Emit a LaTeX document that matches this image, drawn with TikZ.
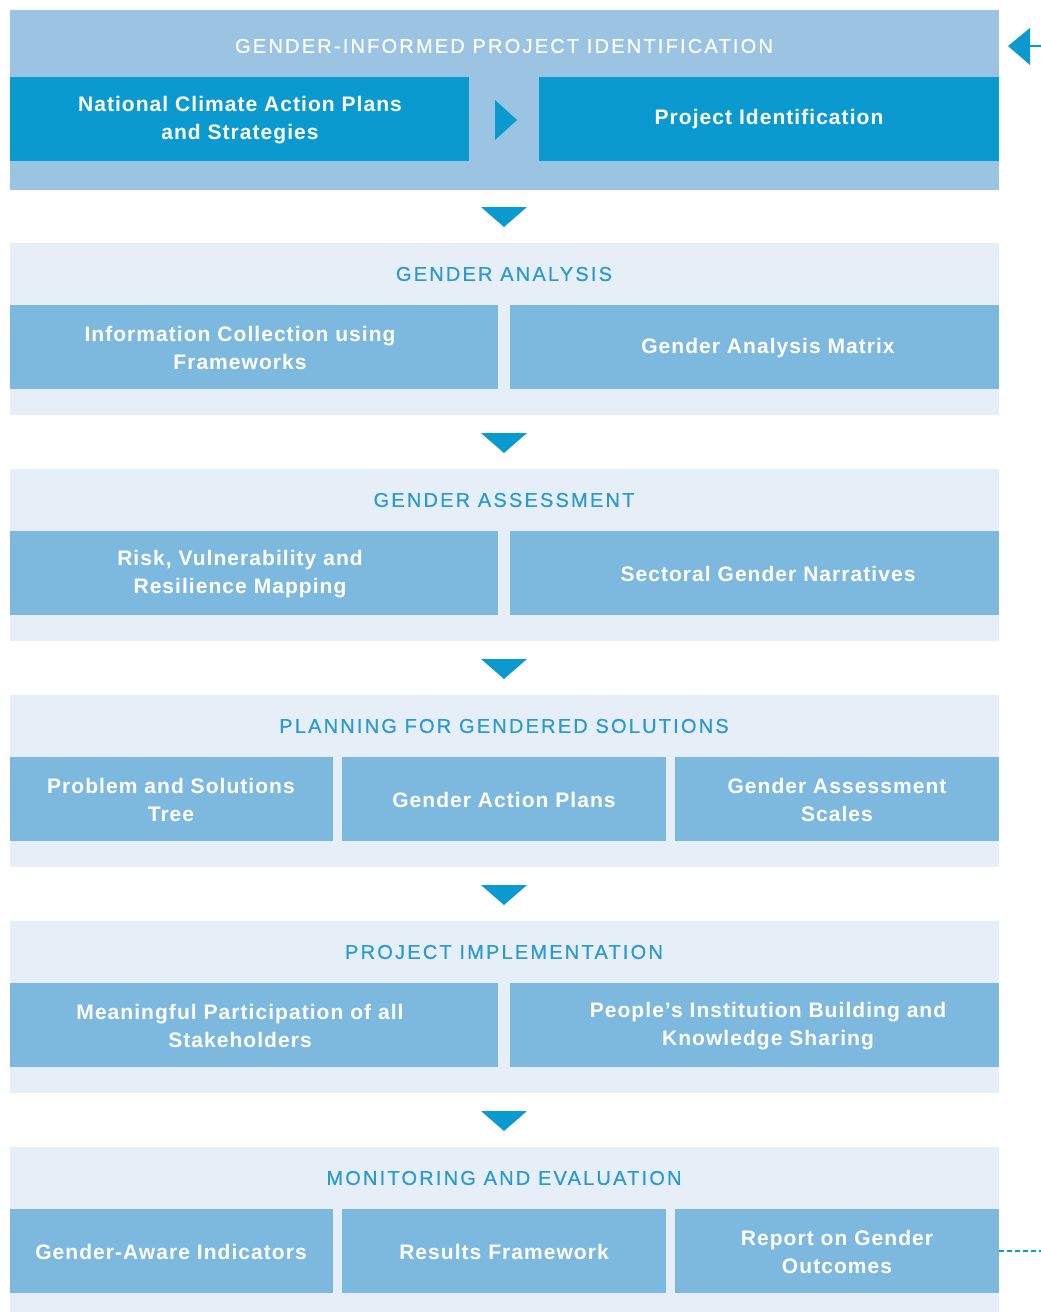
\documentclass[tikz,border=0pt]{standalone}
\usepackage{fontspec}
\setmainfont{Liberation Sans}
\definecolor{bgdark}{HTML}{9AC4E2}
\definecolor{bglight}{HTML}{E6EEF7}
\definecolor{boxdark}{HTML}{0A9AD0}
\definecolor{boxlight}{HTML}{7DB8DE}
\definecolor{headblue}{HTML}{2A9AD0}
\definecolor{arrowblue}{HTML}{0A9AD0}
\tikzset{
  secbg/.style={fill=#1, draw=none, inner sep=0pt, anchor=north west},
  cell/.style={fill=#1, draw=none, inner sep=0pt, anchor=north west, minimum height=84pt},
  celltext/.style={text=white, align=center, inner sep=0pt,
    font=\fontsize{21}{28}\selectfont\bfseries\addfontfeatures{LetterSpace=5}},
  head/.style={text=#1, inner sep=0pt, font=\fontsize{20}{24}\selectfont\addfontfeatures{LetterSpace=11,FakeBold=0.6}},
}
\newcommand{\tri}[2]{\fill[arrowblue] (#1-23,#2) -- (#1+23,#2) -- (#1,#2+20) -- cycle;}
\begin{document}
\begin{tikzpicture}[x=1pt,y=-1pt]
\useasboundingbox (0,0) rectangle (1041,1312);
\fill[white] (0,0) rectangle (1041,1312);
% Section 1
\node[secbg=bgdark, minimum width=989pt, minimum height=180pt] (s1) at (10,10) {};
\node[head=white] (h1) at (504,46) {GENDER-INFORMED PROJECT IDENTIFICATION};
\node[cell=boxdark, minimum width=459pt] (b11) at (10,77) {};
\node[cell=boxdark, minimum width=460pt] (b12) at (539,77) {};
\node[celltext] (t11) at (240,120) {National Climate Action Plans\\and Strategies};
\node[celltext] (t12) at (769,119) {Project Identification};
\fill[arrowblue] (495,100) -- (517,120) -- (495,140) -- cycle;
% side arrow
\coordinate (sideA) at (1041,46);
\fill[arrowblue] (1008,46) -- (1030,28) -- (1030,65) -- cycle;
\draw[arrowblue, line width=2pt] (1030,46) -- (sideA);
\tri{504}{207}
% Section 2
\node[secbg=bglight, minimum width=989pt, minimum height=172pt] (s2) at (10,243) {};
\node[head=headblue] (h2) at (504,274) {GENDER ANALYSIS};
\node[cell=boxlight, minimum width=488pt] (b21) at (10,305) {};
\node[cell=boxlight, minimum width=489pt] (b22) at (510,305) {};
\node[celltext] (t21) at (240,348) {Information Collection using\\Frameworks};
\node[celltext] (t22) at (768,348) {Gender Analysis Matrix};
\tri{504}{433}
% Section 3
\node[secbg=bglight, minimum width=989pt, minimum height=172pt] (s3) at (10,469) {};
\node[head=headblue] (h3) at (504,500) {GENDER ASSESSMENT};
\node[cell=boxlight, minimum width=488pt] (b31) at (10,531) {};
\node[cell=boxlight, minimum width=489pt] (b32) at (510,531) {};
\node[celltext] (t31) at (240,574) {Risk, Vulnerability and\\Resilience Mapping};
\node[celltext] (t32) at (768,574) {Sectoral Gender Narratives};
\tri{504}{659}
% Section 4
\node[secbg=bglight, minimum width=989pt, minimum height=172pt] (s4) at (10,695) {};
\node[head=headblue] (h4) at (504,726) {PLANNING FOR GENDERED SOLUTIONS};
\node[cell=boxlight, minimum width=323pt] (b41) at (10,757) {};
\node[cell=boxlight, minimum width=324pt] (b42) at (342,757) {};
\node[cell=boxlight, minimum width=324pt] (b43) at (675,757) {};
\node[celltext] (t41) at (171,800) {Problem and Solutions\\Tree};
\node[celltext] (t42) at (504,800) {Gender Action Plans};
\node[celltext] (t43) at (837,800) {Gender Assessment\\Scales};
\tri{504}{885}
% Section 5
\node[secbg=bglight, minimum width=989pt, minimum height=172pt] (s5) at (10,921) {};
\node[head=headblue] (h5) at (504,952) {PROJECT IMPLEMENTATION};
\node[cell=boxlight, minimum width=488pt] (b51) at (10,983) {};
\node[cell=boxlight, minimum width=489pt] (b52) at (510,983) {};
\node[celltext] (t51) at (240,1026) {Meaningful Participation of all\\Stakeholders};
\node[celltext] (t52) at (768,1026) {People's Institution Building and\\Knowledge Sharing};
\tri{504}{1111}
% Section 6
\node[secbg=bglight, minimum width=989pt, minimum height=172pt] (s6) at (10,1147) {};
\node[head=headblue] (h6) at (504,1178) {MONITORING AND EVALUATION};
\node[cell=boxlight, minimum width=323pt] (b61) at (10,1209) {};
\node[cell=boxlight, minimum width=324pt] (b62) at (342,1209) {};
\node[cell=boxlight, minimum width=324pt] (b63) at (675,1209) {};
\node[celltext] (t61) at (171,1252) {Gender-Aware Indicators};
\node[celltext] (t62) at (504,1252) {Results Framework};
\node[celltext] (t63) at (837,1252) {Report on Gender\\Outcomes};
\coordinate (sideB) at (1041,1251);
\draw[arrowblue, line width=1.5pt, dash pattern=on 5pt off 3pt] (b63.east |- sideB) -- (sideB);
\end{tikzpicture}
\end{document}
